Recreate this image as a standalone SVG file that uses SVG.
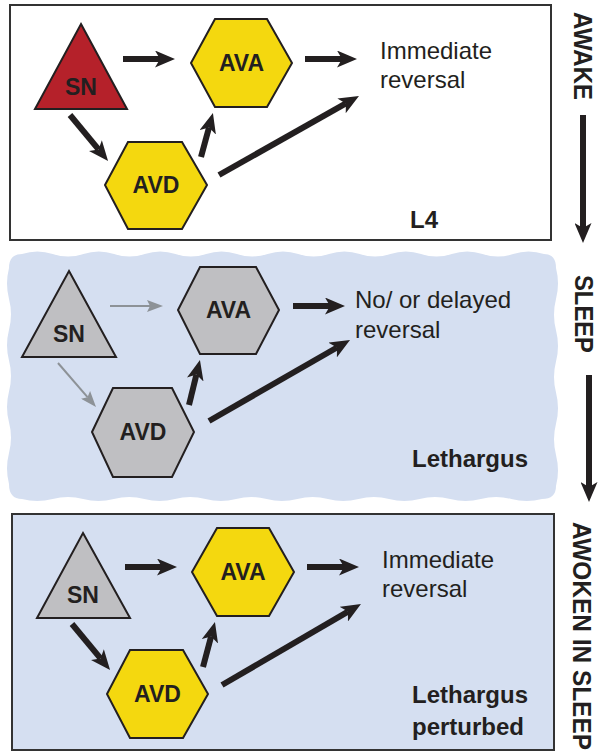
<svg xmlns="http://www.w3.org/2000/svg" width="598" height="755" viewBox="0 0 598 755">
<defs>
<marker id="ah" markerUnits="userSpaceOnUse" viewBox="0 0 20 17" markerWidth="20" markerHeight="17" refX="5" refY="8.5" orient="auto">
<path d="M0,0 L20,8.5 L0,17 L5,8.5 z" fill="#231f20"/>
</marker>
<marker id="ahg" markerUnits="userSpaceOnUse" viewBox="0 0 16 12" markerWidth="16" markerHeight="12" refX="3" refY="6" orient="auto">
<path d="M0,0 L16,6 L0,12 L3,6 z" fill="#8d9297"/>
</marker>
</defs>
<style>
.frame{stroke:#333;stroke-width:2}
.tri,.hex{stroke:#231f20;stroke-width:2;stroke-linejoin:miter}
.red{fill:#b5212a}.yel{fill:#f4d80f}.gry{fill:#bfbfc2}
.lab{font-family:"Liberation Sans",Arial,sans-serif;font-weight:bold;font-size:23px;fill:#231f20;text-anchor:middle}
.txt{font-family:"Liberation Sans",Arial,sans-serif;font-size:24px;fill:#231f20}
.btxt{font-family:"Liberation Sans",Arial,sans-serif;font-size:24px;font-weight:bold;fill:#231f20}
.side{font-family:"Liberation Sans",Arial,sans-serif;font-size:25px;font-weight:bold;fill:#231f20}
.a{stroke:#231f20;stroke-width:6;fill:none;marker-end:url(#ah)}
.g{stroke:#8d9297;stroke-width:2;fill:none;marker-end:url(#ahg)}
</style>
<!-- panels -->
<rect class="frame" x="10" y="5" width="541" height="235" fill="#ffffff"/>
<path fill="#d5dff1" d="M22,254 Q37.35,249 52.7,254 T83.4,254 T114.1,254 T144.8,254 T175.5,254 T206.2,254 T236.9,254 T267.6,254 T298.3,254 T329,254 T359.7,254 T390.4,254 T421.1,254 T451.8,254 T482.5,254 T513.2,254 T544,254 Q556,254 556,268 Q560,283.6 556,299.1 T556,330.3 T556,361.4 T556,392.6 T556,423.7 T556,454.9 T556,486 Q556,499 542,499 Q526.7,503 511.4,499 T480.8,499 T450.2,499 T419.6,499 T389.1,499 T358.5,499 T327.9,499 T297.3,499 T266.7,499 T236.1,499 T205.5,499 T174.9,499 T144.4,499 T113.8,499 T83.2,499 T52.6,499 T22,499 Q9,499 9,484 Q5,468.6 9,453.1 T9,422.3 T9,391.4 T9,360.6 T9,329.7 T9,298.9 T9,268 Q9,254 22,254 Z"/>
<rect class="frame" x="12" y="514" width="542" height="236" fill="#d5dff1"/>

<!-- connectors -->
<g id="connectors">
<line class="a" x1="123" y1="59" x2="160" y2="59"/>
<line class="a" x1="70" y1="115" x2="98.5" y2="149.4"/>
<line class="a" x1="201" y1="157" x2="209" y2="127.5"/>
<line class="a" x1="305" y1="59" x2="342" y2="59"/>
<line class="a" x1="219" y1="175" x2="345.9" y2="103.4"/>
<line class="a" x1="583" y1="115" x2="583" y2="228"/>

<line class="g" x1="110" y1="306" x2="150" y2="306"/>
<line class="g" x1="58" y1="363" x2="87.5" y2="397.2"/>
<line class="a" x1="189" y1="405" x2="196.4" y2="374.6"/>
<line class="a" x1="293" y1="306" x2="330" y2="306"/>
<line class="a" x1="209" y1="421" x2="337" y2="347.5"/>
<line class="a" x1="589" y1="375" x2="589" y2="487"/>

<line class="a" x1="125" y1="567" x2="162" y2="567"/>
<line class="a" x1="72" y1="624" x2="100.5" y2="658.4"/>
<line class="a" x1="203" y1="667" x2="211.1" y2="636.5"/>
<line class="a" x1="307" y1="567" x2="344" y2="567"/>
<line class="a" x1="222" y1="685" x2="348" y2="611.6"/>
</g>

<!-- panel 1 nodes -->
<g id="sn1"><polygon class="tri red" points="81,24 127,109 35,109"/><text class="lab" x="81" y="95">SN</text></g>
<g id="ava1"><polygon class="hex yel" points="191,63 215,19 267,19 292,63 267,107 215,107"/><text class="lab" x="241.5" y="71">AVA</text></g>
<g id="avd1"><polygon class="hex yel" points="105,185 128,142 182,142 207,185 182,229 128,229"/><text class="lab" x="156" y="193">AVD</text></g>
<g id="out1"><text class="txt" x="380" y="59">Immediate</text><text class="txt" x="380" y="88">reversal</text></g>
<text class="btxt" x="410" y="228">L4</text>
<text class="side" transform="translate(574,12) rotate(90)" textLength="88" lengthAdjust="spacingAndGlyphs">AWAKE</text>

<!-- panel 2 nodes -->
<g id="sn2"><polygon class="tri gry" points="69,271 116,357 22,357"/><text class="lab" x="69" y="342">SN</text></g>
<g id="ava2"><polygon class="hex gry" points="178,310 200,267 256,267 279,310 256,354 200,354"/><text class="lab" x="228.5" y="318">AVA</text></g>
<g id="avd2"><polygon class="hex gry" points="92,432 113,388 172,388 194,432 172,477 113,477"/><text class="lab" x="143" y="440">AVD</text></g>
<g id="out2"><text class="txt" x="355" y="308">No/ or delayed</text><text class="txt" x="355" y="338">reversal</text></g>
<text class="btxt" x="412" y="467">Lethargus</text>
<text class="side" transform="translate(575,275) rotate(90)" textLength="78" lengthAdjust="spacingAndGlyphs">SLEEP</text>

<!-- panel 3 nodes -->
<g id="sn3"><polygon class="tri gry" points="83,533 130,618 37,618"/><text class="lab" x="83" y="603">SN</text></g>
<g id="ava3"><polygon class="hex yel" points="192,572 217,528 269,528 294,572 269,616 217,616"/><text class="lab" x="243" y="580">AVA</text></g>
<g id="avd3"><polygon class="hex yel" points="107,694 130,650 183,650 208,694 183,738 130,738"/><text class="lab" x="157.5" y="702">AVD</text></g>
<g id="out3"><text class="txt" x="382" y="568">Immediate</text><text class="txt" x="382" y="597">reversal</text></g>
<text class="btxt" x="412" y="703">Lethargus</text>
<text class="btxt" x="412" y="735">perturbed</text>
<text class="side" transform="translate(573,522) rotate(90)" textLength="228" lengthAdjust="spacingAndGlyphs">AWOKEN IN SLEEP</text>
</svg>
